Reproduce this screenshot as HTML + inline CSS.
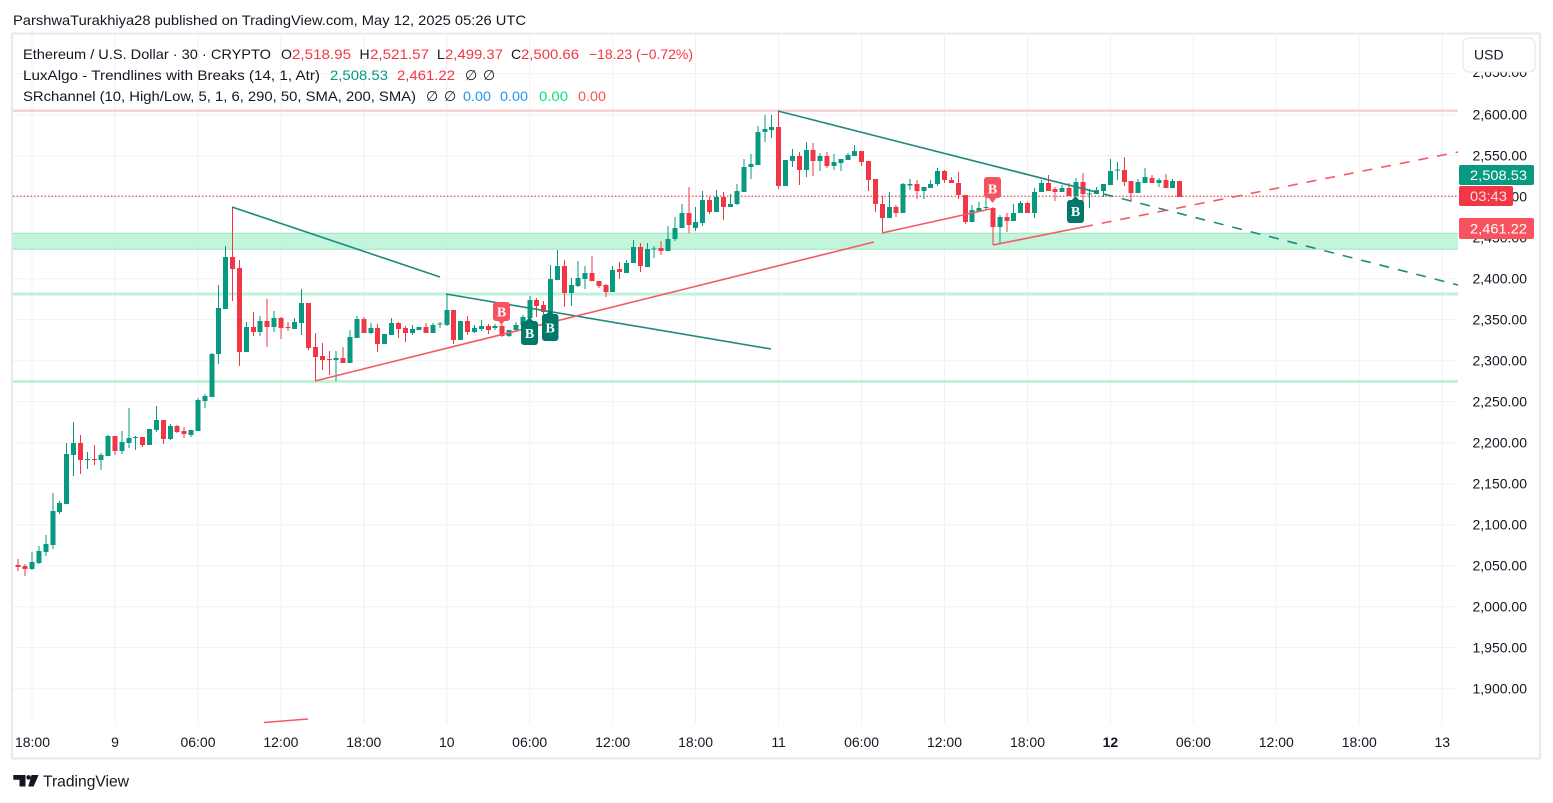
<!DOCTYPE html>
<html><head><meta charset="utf-8"><style>
html,body{margin:0;padding:0;background:#fff;}
svg{display:block;font-family:"Liberation Sans",sans-serif;}
</style></head><body>
<svg width="1553" height="803" viewBox="0 0 1553 803" xmlns="http://www.w3.org/2000/svg">
<rect width="1553" height="803" fill="#fff"/>
<text x="13" y="25" font-size="14" fill="#131722" textLength="513" lengthAdjust="spacingAndGlyphs">ParshwaTurakhiya28 published on TradingView.com, May 12, 2025 05:26 UTC</text>
<rect x="12" y="33.5" width="1528" height="725" fill="none" stroke="#e6e8eb" stroke-width="2"/>
<g stroke="#eff1f4" stroke-width="1">
<path d="M13 73.7H1458M13 114.7H1458M13 155.7H1458M13 196.7H1458M13 237.7H1458M13 278.7H1458M13 319.7H1458M13 360.7H1458M13 401.7H1458M13 442.7H1458M13 483.7H1458M13 524.7H1458M13 565.7H1458M13 606.7H1458M13 647.7H1458M13 688.7H1458"/>
<path d="M32 35V724M115 35V724M198 35V724M280.9 35V724M363.8 35V724M446.8 35V724M529.7 35V724M612.7 35V724M695.6 35V724M778.6 35V724M861.6 35V724M944.5 35V724M1027.5 35V724M1110.4 35V724M1193.4 35V724M1276.3 35V724M1359.3 35V724M1442.3 35V724"/>
</g>
<path d="M13 110.7H1458" stroke="#fbd0d3" stroke-width="2.5"/>
<rect x="13" y="233" width="1445" height="16.5" fill="#bdf4d8" fill-opacity="0.9"/>
<path d="M13 233.3H1458M13 249.3H1458" stroke="#98e8bd" stroke-width="1"/>
<path d="M13 294H1458M13 381.5H1458" stroke="#bdf3d6" stroke-width="3"/>
<path d="M13 196.2H1458" stroke="#f23645" stroke-width="1.2" stroke-dasharray="1.5 2"/>
<g fill="none" shape-rendering="crispEdges">
<path stroke="#089981" stroke-width="1" d="M32.04 552V570M38.96 546V564M45.87 535V556M52.78 493V549M59.7 501V514M66.61 443V504M73.52 422V476M87.35 452V469M101.17 453V470M108.09 435V456M121.91 431V454M128.83 408V448M135.74 436V450M149.57 429V445M156.48 406V432M170.3 424V440M191.04 430V437M197.96 398V431M204.87 394V408M211.78 353V397M218.7 285V364M225.61 246V309M246.35 322V352M260.17 316V336M274 311V332M294.74 318V329M301.65 289V335M336.22 351V381M350.04 330V363M356.96 316V338M370.78 323V334M384.61 334V344M391.52 318V335M412.26 325V335M419.17 327V330M433 323V333M439.91 322V328M446.82 294V326M460.65 321V340M474.48 325V333M481.39 320V331M495.22 324V330M509.04 330V337M515.95 322V330M522.87 315V325M529.78 296V318M550.52 265V312M557.43 250V280M571.26 278V306M578.17 261V287M585.08 266V289M612.74 266V292M626.56 260V273M633.48 240V263M647.3 243V267M654.21 246V258M668.04 226V251M674.95 217V241M681.87 204V228M695.69 207V231M702.61 191V226M716.43 190V212M730.26 194V207M737.17 184V205M744.08 159V192M751 154V179M757.91 126V165M764.82 115V142M771.74 115V138M785.56 160V186M792.47 149V167M806.3 142V177M820.13 153V171M833.95 154V170M840.87 159V171M847.78 153V160M854.69 145V156M889.26 192V218M903.08 183V213M910 179V190M923.82 187V199M930.73 180V188M937.65 168V186M972.21 205V222M979.13 202V211M986.04 193V210M999.86 215V244M1013.69 204V221M1020.6 201V213M1034.43 188V218M1041.34 180V192M1062.08 185V192M1075.91 178V196M1089.73 189V208M1096.65 187V194M1103.56 184V197M1110.47 159V185M1117.39 162V180M1138.12 179V193M1145.04 168V183M1158.86 178V187M1172.69 179V188"/>
<path stroke="#089981" stroke-width="5" d="M32.04 562V569M38.96 551V563M45.87 544V552M52.78 511V545M59.7 503V512M66.61 454V504M73.52 443V455M87.35 459V460M101.17 455V460M108.09 436V456M121.91 442V451M128.83 438V443M135.74 437V438M149.57 429V445M156.48 420V430M170.3 426V439M191.04 430V435M197.96 400V431M204.87 396V401M211.78 354V397M218.7 308V354M225.61 257V309M246.35 327V352M260.17 321V332M274 318V327M294.74 322V329M301.65 303V323M336.22 358V360M350.04 337V363M356.96 319V338M370.78 328V333M384.61 334V344M391.52 323V335M412.26 329V333M419.17 327V330M433 325V333M439.91 323.5V324.5M446.82 310V325M460.65 321V340M474.48 328V332M481.39 326V329M495.22 326V328M509.04 330V336M515.95 325V330M522.87 317V325M529.78 300V318M550.52 279V312M557.43 266V280M571.26 285V293M578.17 278V286M585.08 273V279M612.74 270V292M626.56 263V273M633.48 247V263M647.3 249V267M654.21 248.5V249.5M668.04 239V251M674.95 228V239M681.87 213V228M695.69 222V228M702.61 200V223M716.43 197V212M730.26 204V207M737.17 191V204M744.08 167V192M751 164V167M757.91 132V165M764.82 129V132M771.74 127V130M785.56 160V186M792.47 156V161M806.3 150V170M820.13 156V161M833.95 162V166M840.87 159V163M847.78 155V160M854.69 151V156M889.26 207V218M903.08 184V213M910 184V185.5M923.82 187V191M930.73 184V188M937.65 171V184M972.21 210V222M979.13 208V211M986.04 207V208M999.86 217V227M1013.69 213V221M1020.6 203V213M1034.43 192V213M1041.34 183V192M1062.08 188V192M1075.91 182V196M1089.73 193.5V194.5M1096.65 190V194M1103.56 184V191M1110.47 171V185M1117.39 169.5V170.5M1138.12 182V193M1145.04 177V183M1158.86 180V183M1172.69 181V188"/>
<path stroke="#f23645" stroke-width="1" d="M18.22 559V571M25.13 564V576M80.44 435V474M94.26 445V465M115 436V455M142.65 437V447M163.39 420V444M177.22 425V433M184.13 427V438M232.52 207V301M239.43 260V366M253.26 312V336M267.09 299V347M280.91 317V339M287.83 322V331M308.56 303V350M315.48 333V381M322.39 343V370M329.3 351V375M343.13 347V363M363.87 317V333M377.69 324V352M398.43 322V338M405.35 326V342M426.09 323V333M453.74 310V344M467.56 316V335M488.3 324V334M502.13 324V337M536.69 298V317M543.61 301V316M564.35 260V307M592 256V281M598.91 281V288M605.82 284V297M619.65 262V279M640.39 243V272M661.13 241V255M688.78 187V233M709.52 197V214M723.34 192V220M778.65 111V189M799.39 152V185M813.21 143V176M827.04 152V168M861.6 151V166M868.52 161V191M875.43 179V212M882.34 196V233M896.17 205V217M916.91 180V199M944.56 170V183M951.47 177V183M958.39 172V199M965.3 195V224M992.95 207V245M1006.78 213V232M1027.52 202V213M1048.26 175V191M1055.17 187V201M1068.99 183V196M1082.82 173V208M1124.3 157V186M1131.21 181V202M1151.95 175V183M1165.78 174V188M1179.6 181V197"/>
<path stroke="#f23645" stroke-width="5" d="M18.22 565V567M25.13 566V569M80.44 443V460M94.26 459V460M115 436V451M142.65 437V445M163.39 420V439M177.22 426V432M184.13 431V434M232.52 257V269M239.43 268V352M253.26 327V332M267.09 321V327M280.91 318V328M287.83 327V328M308.56 303V348M315.48 347V357M322.39 356V360M329.3 359V360M343.13 358V363M363.87 319V333M377.69 328V344M398.43 323V329M405.35 328V333M426.09 327V333M453.74 310V340M467.56 321V332M488.3 326V330M502.13 326V336M536.69 300V306M543.61 305V312M564.35 266V293M592 273V281M598.91 281V286M605.82 285V292M619.65 269V272M640.39 247V266M661.13 248V251M688.78 213V225M709.52 200V212M723.34 197V207M778.65 127V186M799.39 156V170M813.21 150V161M827.04 156V166M861.6 151V162M868.52 161V180M875.43 179V204M882.34 204V218M896.17 207V213M916.91 184V191M944.56 171V180M951.47 180V183M958.39 183V195M965.3 195V222M992.95 208V227M1006.78 217V221M1027.52 203V213M1048.26 183V191M1055.17 189V192M1068.99 188V196M1082.82 182V194M1124.3 170V182M1131.21 181V193M1151.95 178V183M1165.78 180V188M1179.6 181V197"/>
</g>
<g fill="none" stroke-width="1.6">
<path d="M232 207L440 277M446 294L771 349M778 111L1085 189.2" stroke="#1f8a7d"/>
<path d="M1085 189.2L1458 285" stroke="#1f8a7d" stroke-dasharray="10 9"/>
<path d="M315 381L874 242M882 233L990 209M993 245L1083 227M264 722.5L308 719" stroke="#f55a64"/>
<path d="M1083 227L1458 152" stroke="#f55a64" stroke-dasharray="10 9"/>
</g>
<g font-family="'Liberation Serif',serif" font-size="14" font-weight="bold" fill="#fff" text-anchor="middle">
<rect x="493" y="302" width="17" height="19" rx="3" fill="#f7525f"/><path d="M498 320.5H505L501.5 324.5Z" fill="#f7525f"/><text x="501.5" y="316.5">B</text>
<rect x="521" y="321" width="17" height="24" rx="3" fill="#00796b"/><path d="M525.5 321.5H533.5L529.5 317Z" fill="#00796b"/><text x="529.5" y="338">B</text>
<rect x="542" y="314" width="16.5" height="27" rx="3" fill="#00796b"/><path d="M546 314.5H554L550 310Z" fill="#00796b"/><text x="550.2" y="332.5">B</text>
<rect x="984" y="177" width="17" height="21" rx="3" fill="#f7525f"/><path d="M988.5 197.5H996.5L992.5 203Z" fill="#f7525f"/><text x="992.5" y="193.5">B</text>
<rect x="1067" y="200" width="17" height="23" rx="3" fill="#00796b"/><path d="M1071.5 200.5H1079.5L1075.5 196Z" fill="#00796b"/><text x="1075.5" y="216">B</text>
</g>
<g font-size="14">
<text x="23" y="59" fill="#131722" textLength="248" lengthAdjust="spacingAndGlyphs">Ethereum / U.S. Dollar · 30 · CRYPTO</text>
<text x="281" y="59" fill="#131722">O</text><text x="292" y="59" fill="#f23645" textLength="59" lengthAdjust="spacingAndGlyphs">2,518.95</text>
<text x="359.5" y="59" fill="#131722">H</text><text x="370" y="59" fill="#f23645" textLength="59" lengthAdjust="spacingAndGlyphs">2,521.57</text>
<text x="437" y="59" fill="#131722">L</text><text x="445" y="59" fill="#f23645" textLength="58" lengthAdjust="spacingAndGlyphs">2,499.37</text>
<text x="511" y="59" fill="#131722">C</text><text x="521" y="59" fill="#f23645" textLength="58" lengthAdjust="spacingAndGlyphs">2,500.66</text>
<text x="589" y="59" fill="#f23645" textLength="104" lengthAdjust="spacingAndGlyphs">−18.23 (−0.72%)</text>
<text x="23" y="80" fill="#131722" textLength="297" lengthAdjust="spacingAndGlyphs">LuxAlgo - Trendlines with Breaks (14, 1, Atr)</text>
<text x="330" y="80" fill="#089981" textLength="58" lengthAdjust="spacingAndGlyphs">2,508.53</text>
<text x="397" y="80" fill="#f23645" textLength="58" lengthAdjust="spacingAndGlyphs">2,461.22</text>
<text x="465" y="80" fill="#131722">∅</text><text x="483" y="80" fill="#131722">∅</text>
<text x="23" y="101" fill="#131722" textLength="393" lengthAdjust="spacingAndGlyphs">SRchannel (10, High/Low, 5, 1, 6, 290, 50, SMA, 200, SMA)</text>
<text x="426" y="101" fill="#131722">∅</text><text x="444" y="101" fill="#131722">∅</text>
<text x="463" y="101" fill="#2196f3" textLength="28" lengthAdjust="spacingAndGlyphs">0.00</text>
<text x="500" y="101" fill="#2196f3" textLength="28" lengthAdjust="spacingAndGlyphs">0.00</text>
<text x="539" y="101" fill="#00e676" textLength="29" lengthAdjust="spacingAndGlyphs">0.00</text>
<text x="578" y="101" fill="#ff5252" textLength="28" lengthAdjust="spacingAndGlyphs">0.00</text>
</g>
<g font-size="14" fill="#131722" text-anchor="end">
<text x="1527" y="77.2">2,650.00</text>
<text x="1527" y="119.7">2,600.00</text>
<text x="1527" y="160.7">2,550.00</text>
<text x="1527" y="201.7">2,500.00</text>
<text x="1527" y="242.7">2,450.00</text>
<text x="1527" y="283.7">2,400.00</text>
<text x="1527" y="324.7">2,350.00</text>
<text x="1527" y="365.7">2,300.00</text>
<text x="1527" y="406.7">2,250.00</text>
<text x="1527" y="447.7">2,200.00</text>
<text x="1527" y="488.7">2,150.00</text>
<text x="1527" y="529.7">2,100.00</text>
<text x="1527" y="570.7">2,050.00</text>
<text x="1527" y="611.7">2,000.00</text>
<text x="1527" y="652.7">1,950.00</text>
<text x="1527" y="693.7">1,900.00</text>
</g>
<rect x="1463" y="38" width="72" height="34" rx="6" fill="#fff" stroke="#e0e3eb" stroke-width="1"/>
<text x="1474" y="59.5" font-size="14" fill="#131722">USD</text>
<rect x="1459" y="165" width="75" height="20" rx="2" fill="#089981"/>
<text x="1470" y="180" font-size="14" fill="#fff" textLength="57" lengthAdjust="spacingAndGlyphs">2,508.53</text>
<rect x="1459" y="186" width="54" height="20" rx="2" fill="#f23645"/>
<text x="1470" y="201" font-size="14" fill="#fff" fill-opacity="0.85" textLength="37" lengthAdjust="spacingAndGlyphs">03:43</text>
<rect x="1459" y="218" width="75" height="21" rx="2" fill="#f7525f"/>
<text x="1470" y="233.5" font-size="14" fill="#fff" textLength="57" lengthAdjust="spacingAndGlyphs">2,461.22</text>
<g font-size="14" fill="#131722" text-anchor="middle">
<text x="32.5" y="747">18:00</text>
<text x="115" y="747">9</text>
<text x="198" y="747">06:00</text>
<text x="280.9" y="747">12:00</text>
<text x="363.8" y="747">18:00</text>
<text x="446.8" y="747">10</text>
<text x="529.7" y="747">06:00</text>
<text x="612.7" y="747">12:00</text>
<text x="695.6" y="747">18:00</text>
<text x="778.6" y="747">11</text>
<text x="861.6" y="747">06:00</text>
<text x="944.5" y="747">12:00</text>
<text x="1027.5" y="747">18:00</text>
<text x="1110.4" y="747" font-weight="bold">12</text>
<text x="1193.4" y="747">06:00</text>
<text x="1276.3" y="747">12:00</text>
<text x="1359.3" y="747">18:00</text>
<text x="1442.3" y="747">13</text>
</g>
<g fill="#131722">
<path d="M13.3 775H25.5V786.5H19.5V779.8H13.3Z"/>
<circle cx="28.6" cy="777.4" r="2.3"/>
<path d="M31.5 775H38.6L33.6 786.5H28.3Z"/>
</g>
<text x="43" y="786.5" font-size="16" fill="#131722" textLength="86" lengthAdjust="spacingAndGlyphs">TradingView</text>
</svg>
</body></html>
